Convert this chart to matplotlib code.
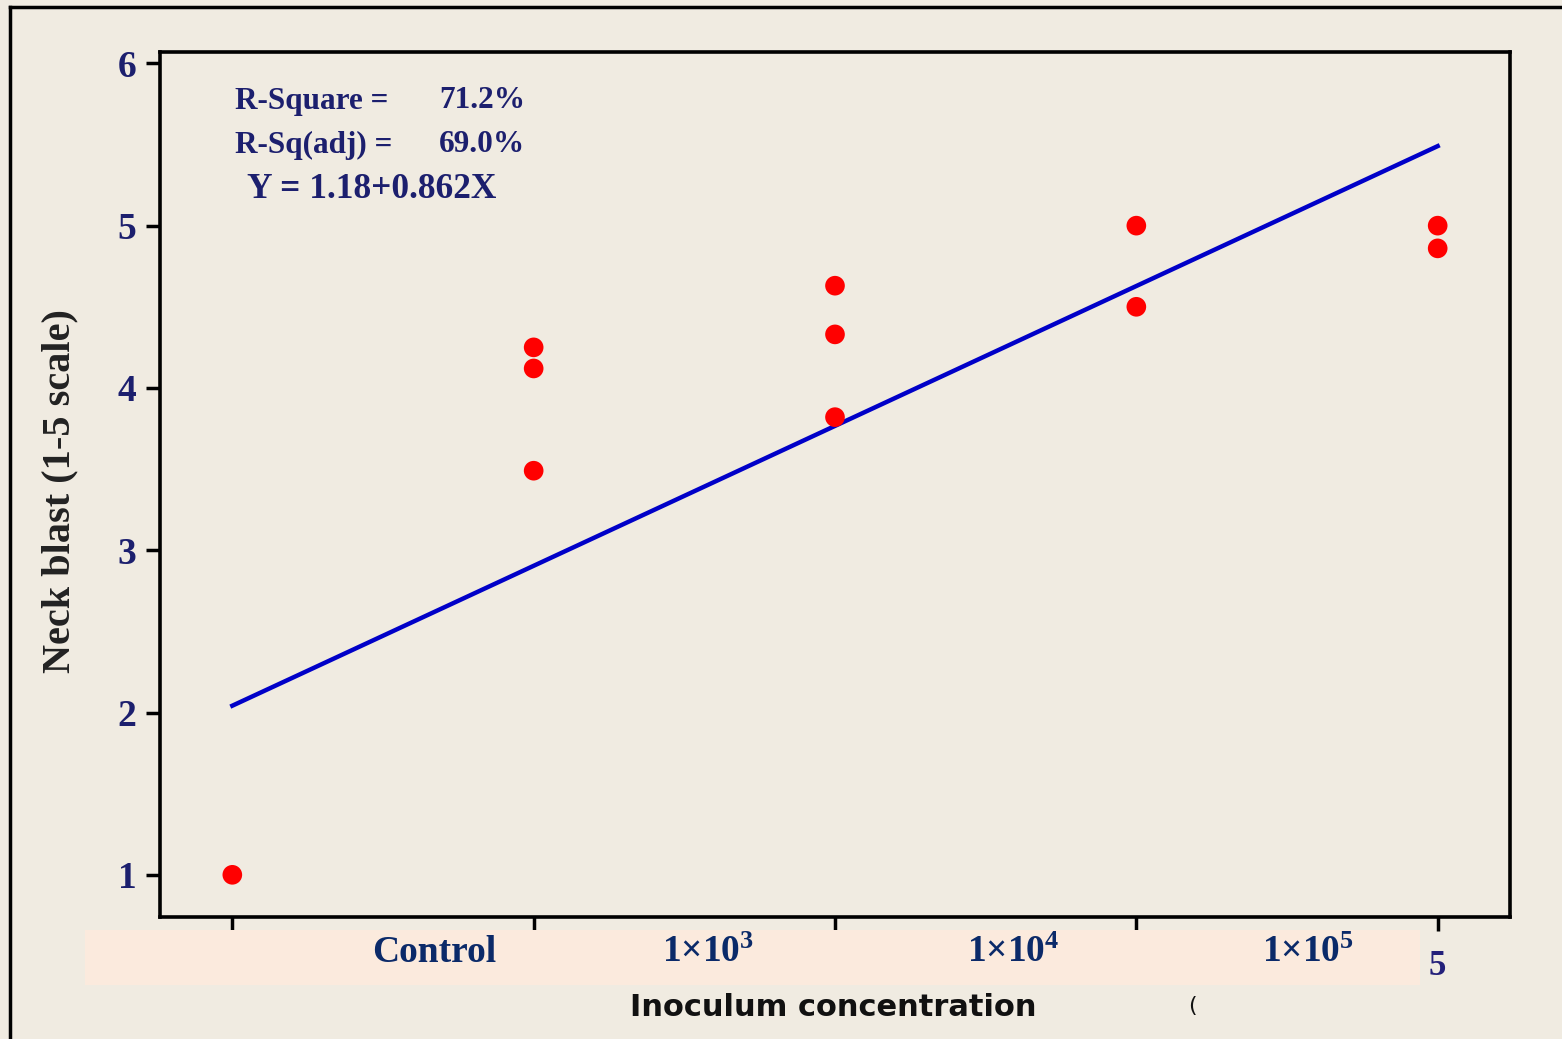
import matplotlib
matplotlib.use("Agg")
import matplotlib.pyplot as plt
import matplotlib.transforms as mtransforms
from matplotlib.patches import Rectangle
from matplotlib.lines import Line2D
import numpy as np

plt.rcParams["mathtext.fontset"] = "custom"
plt.rcParams["mathtext.rm"] = "Liberation Serif:bold"
plt.rcParams["mathtext.bf"] = "Liberation Serif:bold"
plt.rcParams["mathtext.it"] = "Liberation Serif:bold"

# ---- data ----
x_vals = [1, 2, 2, 2, 3, 3, 3, 4, 4, 5, 5]
y_vals = [1.0, 4.25, 4.12, 3.49, 4.63, 4.33, 3.82, 5.0, 4.50, 5.0, 4.86]
intercept = 1.18
slope = 0.862
fit_x = [1, 5]
category_labels = ["Control", r"$\mathrm{1{\times}10^{3}}$", r"$\mathrm{1{\times}10^{4}}$",
                   r"$\mathrm{1{\times}10^{5}}$"]
category_pos = [1.67, 2.58, 3.59, 4.57]
y_ticks = [1, 2, 3, 4, 5, 6]
x_ticks = [1, 2, 3, 4, 5]
x_tick_labels = ["", "", "", "", "5"]
stats_lines = [("R-Square =", "71.2%"), ("R-Sq(adj) =", "69.0%")]
equation = "Y = 1.18+0.862X"

BG = "#f0ebe1"
NAVY = "#1c1f6e"
CAT = "#0b2a69"
serif = ["Liberation Serif", "DejaVu Serif"]

W, H = 1562, 1039
fig = plt.figure(figsize=(W / 100, H / 100), dpi=100, facecolor=BG)
ax = fig.add_axes([160 / W, 1 - 917 / H, (1510 - 160) / W, (917 - 52) / H])
ax.set_facecolor(BG)

fx = np.array(fit_x, dtype=float)
ax.plot(fx, intercept + slope * fx, color="#0000c8", lw=3.2, zorder=2)
ax.scatter(x_vals, y_vals, s=200, color="#ff0000", edgecolors="none", zorder=3)

ax.set_xlim(0.76, 5.24)
ax.set_ylim(0.74, 6.07)
ax.set_yticks(y_ticks)
ax.set_yticklabels([str(t) for t in y_ticks], fontfamily=serif, fontweight="bold",
                   fontsize=27, color=NAVY)
ax.set_xticks(x_ticks)
ax.set_xticklabels(x_tick_labels, fontfamily=serif, fontweight="bold",
                   fontsize=25, color="#24207a")
ax.tick_params(axis="both", direction="out", length=10, width=2.5, color="black")
ax.tick_params(axis="y", pad=7)
ax.tick_params(axis="x", pad=14)
for sp in ax.spines.values():
    sp.set_linewidth(2.6)
    sp.set_color("black")

# peach band behind category labels
band = Rectangle((85 / W, 1 - 985 / H), (1420 - 85) / W, 55 / H,
                 transform=fig.transFigure, facecolor="#fbeadd", edgecolor="none", zorder=1)
fig.add_artist(band)

trans = mtransforms.blended_transform_factory(ax.transData, fig.transFigure)
for lab, p in zip(category_labels, category_pos):
    fig.text(p, 1 - 952 / H, lab, transform=trans, ha="center", va="center",
             fontfamily=serif, fontweight="bold", fontsize=27, color=CAT, zorder=5)

# axis labels
fig.text(833 / W, 1 - 1008 / H, "Inoculum concentration", ha="center", va="center",
         fontfamily=["DejaVu Sans"], fontweight="bold", fontsize=22, color="#111111")
fig.text(1192 / W, 1 - 1006 / H, "(", ha="center", va="center",
         fontfamily=["DejaVu Sans"], fontsize=16, color="#111111")
fig.text(60 / W, 1 - 491 / H, "Neck blast (1-5 scale)", ha="center", va="center",
         rotation=90, fontfamily=serif, fontweight="bold", fontsize=29, color="#222222")

# stats annotations
for i, (lab, val) in enumerate(stats_lines):
    yy = 1 - (101 + 44 * i) / H
    fig.text(235 / W, yy, lab, ha="left", va="center", fontfamily=serif,
             fontweight="bold", fontsize=22.5, color=NAVY)
    fig.text(525 / W, yy, val, ha="right", va="center", fontfamily=serif,
             fontweight="bold", fontsize=22.5, color=NAVY)
fig.text(247 / W, 1 - 190 / H, equation, ha="left", va="center", fontfamily=serif,
         fontweight="bold", fontsize=25.5, color=NAVY)

# outer frame lines
fig.add_artist(Line2D([10 / W, 1.0], [1 - 7 / H, 1 - 7 / H], transform=fig.transFigure,
                      color="black", lw=2.5))
fig.add_artist(Line2D([10 / W, 10 / W], [0, 1 - 7 / H], transform=fig.transFigure,
                      color="black", lw=2.5))

fig.savefig("out.png", dpi=100, facecolor=BG)
